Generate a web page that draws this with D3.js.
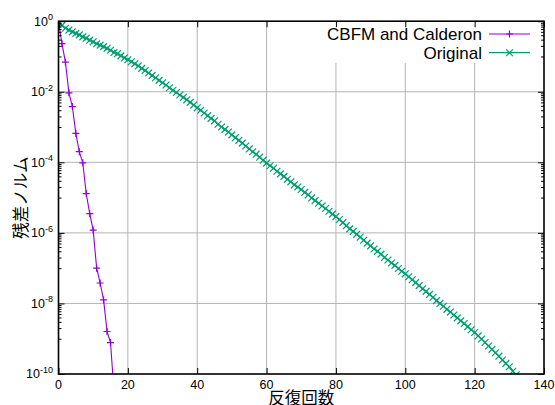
<!DOCTYPE html>
<html>
<head>
<meta charset="utf-8">
<script src="https://cdn.jsdelivr.net/npm/d3@7"></script>
<style>
  body { margin: 0; background: #fff; }
  svg { display: block; }
</style>
</head>
<body>
<svg id="chart" width="555" height="405"></svg>
<script>
// Residual norm per iteration, CBFM + Calderon preconditioning (iteration 0..16)
const cbfmResidual = [
  1.0, 2.3e-1, 6.9e-2, 9.3e-3, 3.8e-3, 6.6e-4, 2.0e-4, 9.7e-5, 1.3e-5, 3.5e-6,
  1.2e-6, 1.0e-7, 3.8e-8, 1.26e-8, 1.6e-9, 7.8e-10, 3.2e-11
];

// Residual norm per iteration, original formulation (iteration 0..132)
const originalResidual = [
  1.0, 7.6e-1, 6.3e-1, 5.6e-1, 5.0e-1, 4.5e-1, 4.1e-1, 3.6e-1, 3.3e-1, 2.9e-1,
  2.6e-1, 2.3e-1, 2.1e-1, 1.9e-1, 1.7e-1, 1.5e-1, 1.3e-1, 1.2e-1, 1.04e-1, 9.1e-2,
  8.1e-2, 7.1e-2, 6.2e-2, 5.4e-2, 4.6e-2, 4.0e-2, 3.4e-2, 2.9e-2, 2.5e-2, 2.1e-2,
  1.8e-2, 1.55e-2, 1.3e-2, 1.1e-2, 9.5e-3, 8.1e-3, 6.9e-3, 5.9e-3, 5.0e-3, 4.2e-3,
  3.5e-3, 3.0e-3, 2.5e-3, 2.1e-3, 1.76e-3, 1.5e-3, 1.2e-3, 1.0e-3, 8.6e-4, 7.2e-4,
  6.0e-4, 5.0e-4, 4.2e-4, 3.5e-4, 2.9e-4, 2.4e-4, 2.0e-4, 1.7e-4, 1.4e-4, 1.15e-4,
  9.5e-5, 8.0e-5, 6.8e-5, 5.6e-5, 4.7e-5, 4.0e-5, 3.3e-5, 2.8e-5, 2.3e-5, 2.0e-5,
  1.7e-5, 1.4e-5, 1.2e-5, 9.8e-6, 8.2e-6, 6.9e-6, 5.8e-6, 4.9e-6, 4.1e-6, 3.4e-6,
  2.9e-6, 2.4e-6, 1.95e-6, 1.6e-6, 1.3e-6, 1.1e-6, 9.1e-7, 7.6e-7, 6.2e-7, 5.1e-7,
  4.3e-7, 3.5e-7, 3.0e-7, 2.5e-7, 2.0e-7, 1.7e-7, 1.4e-7, 1.2e-7, 9.8e-8, 8.2e-8,
  6.9e-8, 5.7e-8, 4.7e-8, 3.9e-8, 3.2e-8, 2.6e-8, 2.2e-8, 1.8e-8, 1.5e-8, 1.2e-8,
  1.0e-8, 8.3e-9, 6.8e-9, 5.7e-9, 4.7e-9, 3.9e-9, 3.2e-9, 2.7e-9, 2.2e-9, 1.8e-9,
  1.5e-9, 1.2e-9, 9.8e-10, 7.8e-10, 6.2e-10, 5.0e-10, 4.0e-10, 3.2e-10, 2.5e-10, 2.0e-10,
  1.6e-10, 1.2e-10, 9.5e-11
];

const seriesNames = ["CBFM and Calderon", "Original"];
const seriesColors = ["#9400d3", "#009e73"];

const xTicks = [0, 20, 40, 60, 80, 100, 120, 140];
const yTickExponents = [0, -2, -4, -6, -8, -10];

const xTitle = "反復回数";
const yTitle = "残差ノルム";

// ---------------------------------------------------------------
const W = 555, H = 405;
const plot = { left: 58.5, right: 544, top: 21.2, bottom: 374 };

const svg = d3.select("#chart");
svg.append("rect").attr("width", W).attr("height", H).attr("fill", "#fff");

const x = d3.scaleLinear().domain([0, 140]).range([plot.left, plot.right]);
const y = d3.scaleLog().domain([1e-10, 1]).range([plot.bottom, plot.top]);

const yTicks = yTickExponents.map(e => Math.pow(10, e));
// minor ticks: j * 10^(n-1) under each major tick 10^n
const yMinor = [];
yTickExponents.forEach(e => {
  for (let j = 1; j <= 9; j++) {
    const v = j * Math.pow(10, e - 1);
    if (v > 1e-10 && v < 1) yMinor.push(v);
  }
});

const plotW = plot.right - plot.left, plotH = plot.bottom - plot.top;

// grid
const grid = svg.append("g").attr("stroke", "#b4b4b4").attr("stroke-width", 1).attr("fill", "none");
grid.selectAll("line.gx").data(xTicks.filter(t => t > 0 && t < 140)).join("line")
  .attr("x1", d => x(d)).attr("x2", d => x(d))
  .attr("y1", plot.top).attr("y2", plot.bottom);
grid.selectAll("line.gy").data(yTicks.filter(t => t < 1 && t > 1e-10)).join("line")
  .attr("x1", plot.left).attr("x2", plot.right)
  .attr("y1", d => y(d)).attr("y2", d => y(d));

// opaque key area
const keyBox = { x0: 320, y0: plot.top, x1: plot.right, y1: 63 };
svg.append("rect")
  .attr("x", keyBox.x0).attr("y", keyBox.y0)
  .attr("width", keyBox.x1 - keyBox.x0).attr("height", keyBox.y1 - keyBox.y0)
  .attr("fill", "#fff");

// clip for data
svg.append("clipPath").attr("id", "plotClip")
  .append("rect").attr("x", plot.left).attr("y", plot.top)
  .attr("width", plotW).attr("height", plotH);

const plusPath = "M-3.5,0H3.5M0,-3.5V3.5";
const crossPath = "M-3.4,-3.4L3.4,3.4M-3.4,3.4L3.4,-3.4";

const line = d3.line().x((d, i) => x(i)).y(d => y(d));

const dataG = svg.append("g").attr("clip-path", "url(#plotClip)");

function drawSeries(values, color, marker, lw) {
  const g = dataG.append("g");
  g.append("path").datum(values).attr("d", line)
    .attr("fill", "none").attr("stroke", color).attr("stroke-width", lw);
  g.selectAll("path.m").data(values).join("path")
    .attr("class", "m")
    .attr("transform", (d, i) => `translate(${x(i)},${y(d)})`)
    .attr("d", marker).attr("fill", "none")
    .attr("stroke", color).attr("stroke-width", 1.2);
}
drawSeries(originalResidual, seriesColors[1], crossPath, 1.4);
drawSeries(cbfmResidual, seriesColors[0], plusPath, 1.1);

// axes (ticks pointing inward, mirrored)
const tickColor = "#000";
const bottomAxis = d3.axisBottom(x).tickValues(xTicks).tickSizeInner(-6).tickSizeOuter(0).tickFormat("");
const topAxis = d3.axisTop(x).tickValues(xTicks).tickSizeInner(-6).tickSizeOuter(0).tickFormat("");
const leftAxis = d3.axisLeft(y).tickValues(yTicks).tickSizeInner(-6).tickSizeOuter(0).tickFormat("");
const rightAxis = d3.axisRight(y).tickValues(yTicks).tickSizeInner(-6).tickSizeOuter(0).tickFormat("");
const leftMinor = d3.axisLeft(y).tickValues(yMinor).tickSizeInner(-3).tickSizeOuter(0).tickFormat("");
const rightMinor = d3.axisRight(y).tickValues(yMinor).tickSizeInner(-3).tickSizeOuter(0).tickFormat("");

function addAxis(axis, tx, ty) {
  const g = svg.append("g").attr("transform", `translate(${tx},${ty})`).call(axis);
  g.select(".domain").remove();
  g.selectAll(".tick line").attr("stroke", tickColor).attr("stroke-width", 1);
  return g;
}
addAxis(bottomAxis, 0, plot.bottom);
addAxis(topAxis, 0, plot.top);
addAxis(leftAxis, plot.left, 0);
addAxis(rightAxis, plot.right, 0);
addAxis(leftMinor, plot.left, 0);
addAxis(rightMinor, plot.right, 0);

// border
svg.append("rect")
  .attr("x", plot.left).attr("y", plot.top)
  .attr("width", plotW).attr("height", plotH)
  .attr("fill", "none").attr("stroke", "#000").attr("stroke-width", 1.6);

// tick labels
const labelFont = "'Liberation Sans', Arial, sans-serif";
svg.append("g").selectAll("text").data(xTicks).join("text")
  .attr("x", d => x(d)).attr("y", plot.bottom + 14.5)
  .attr("text-anchor", "middle")
  .attr("font-family", labelFont).attr("font-size", 12.5)
  .attr("fill", "#000")
  .text(d => d);

const yl = svg.append("g").selectAll("text").data(yTickExponents).join("text")
  .attr("x", plot.left - 5.5).attr("y", e => y(Math.pow(10, e)) + 4.3)
  .attr("text-anchor", "end")
  .attr("font-family", labelFont).attr("font-size", 12.5)
  .attr("fill", "#000");
yl.append("tspan").text("10");
yl.append("tspan").attr("dy", -5.5).attr("font-size", 9).text(e => e === 0 ? "0" : "-" + Math.abs(e));

// axis titles
const cjkFont = "'Noto Sans CJK JP', 'Noto Sans CJK SC', sans-serif";
svg.append("text")
  .attr("x", (plot.left + plot.right) / 2).attr("y", 404)
  .attr("text-anchor", "middle")
  .attr("font-family", cjkFont).attr("font-size", 16.5)
  .attr("fill", "#000").text(xTitle);

svg.append("text")
  .attr("transform", `translate(27, ${(plot.top + plot.bottom) / 2}) rotate(-90)`)
  .attr("text-anchor", "middle")
  .attr("font-family", cjkFont).attr("font-size", 16.5)
  .attr("fill", "#000").text(yTitle);

// legend
const legendRows = [34, 52.7];
const markers = [plusPath, crossPath];
const legend = svg.append("g");
seriesNames.forEach((name, i) => {
  const ry = legendRows[i];
  legend.append("text")
    .attr("x", 482).attr("y", ry + 6)
    .attr("text-anchor", "end")
    .attr("font-family", labelFont).attr("font-size", 17)
    .attr("fill", "#000").text(name);
  legend.append("line")
    .attr("x1", 489).attr("x2", 530).attr("y1", ry).attr("y2", ry)
    .attr("stroke", seriesColors[i]).attr("stroke-width", 1.2);
  legend.append("path")
    .attr("transform", `translate(509.5,${ry})`)
    .attr("d", markers[i]).attr("fill", "none")
    .attr("stroke", seriesColors[i]).attr("stroke-width", 1.2);
});
</script>
</body>
</html>
